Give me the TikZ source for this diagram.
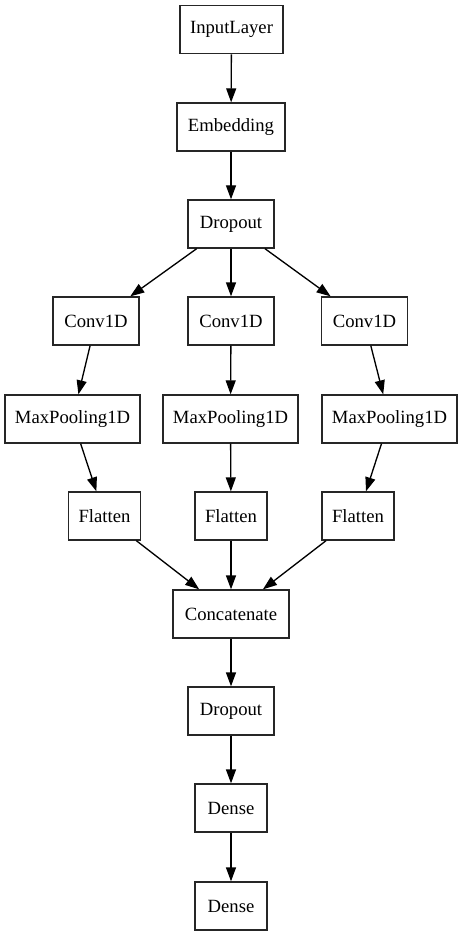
\documentclass[tikz,border=0pt]{standalone}
\usepackage{fontspec}
\setmainfont{Liberation Serif}
\usetikzlibrary{arrows.meta}
\begin{document}
\begin{tikzpicture}[x=1pt,y=-1pt,
  layer/.style={draw=black!85, line width=1.33pt, minimum height=48pt, minimum width=#1, inner sep=0pt,
    font=\fontsize{18.67}{22}\selectfont},
  conn/.style={line width=1.33pt, -{Triangle[length=14pt,width=10pt]}}]
\useasboundingbox (0,0) rectangle (463,936);
\node[layer=103pt] (inp) at (231.5,29.7) {InputLayer};
\node[layer=108pt] (emb) at (231,127) {Embedding};
\node[layer=86pt] (drop1) at (231,224) {Dropout};
\node[layer=86pt] (convl) at (96,321) {Conv1D};
\node[layer=86pt] (convm) at (231,321) {Conv1D};
\node[layer=86pt] (convr) at (364.5,321) {Conv1D};
\node[layer=135pt] (pooll) at (72.5,419) {MaxPooling1D};
\node[layer=135pt] (poolm) at (230.5,419) {MaxPooling1D};
\node[layer=135pt] (poolr) at (389.5,419) {MaxPooling1D};
\node[layer=72pt] (flatl) at (104.5,516) {Flatten};
\node[layer=72pt] (flatm) at (231,516) {Flatten};
\node[layer=72pt] (flatr) at (358,516) {Flatten};
\node[layer=116pt] (concat) at (231,614) {Concatenate};
\node[layer=86pt] (drop2) at (231,711) {Dropout};
\node[layer=72pt] (dense1) at (231,808) {Dense};
\node[layer=72pt] (dense2) at (231,906) {Dense};
\draw[conn] (inp) -- (emb);
\draw[conn] (emb) -- (drop1);
\draw[conn] (drop1) -- (convl);
\draw[conn] (drop1) -- (convm);
\draw[conn] (drop1) -- (convr);
\draw[conn] (convl) -- (pooll);
\draw[conn] (convm) -- (poolm);
\draw[conn] (convr) -- (poolr);
\draw[conn] (pooll) -- (flatl);
\draw[conn] (poolm) -- (flatm);
\draw[conn] (poolr) -- (flatr);
\draw[conn] (flatl) -- (concat);
\draw[conn] (flatm) -- (concat);
\draw[conn] (flatr) -- (concat);
\draw[conn] (concat) -- (drop2);
\draw[conn] (drop2) -- (dense1);
\draw[conn] (dense1) -- (dense2);
\end{tikzpicture}
\end{document}
